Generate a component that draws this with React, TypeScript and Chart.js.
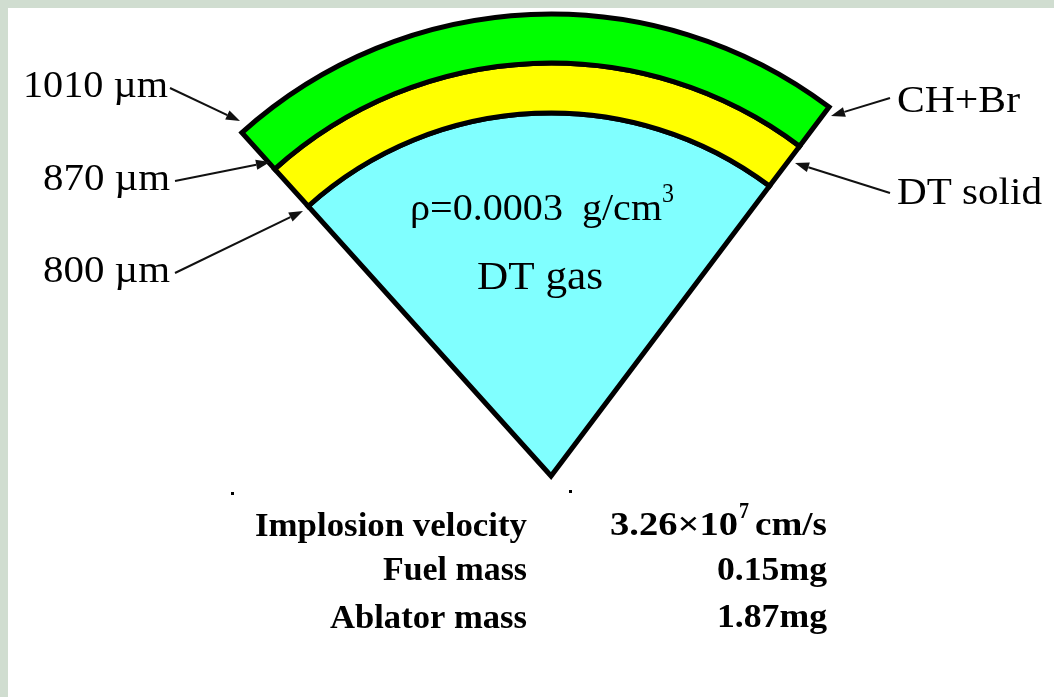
import React, { useEffect, useRef } from "react";
import { Chart, registerables } from "chart.js";

Chart.register(...registerables);

// ---- data ----
const layerNames = ["CH+Br", "DT solid", "DT gas"];
const layerThickness = [49, 50, 363]; // drawn ring thickness (outer -> inner)
const layerShare = [1, 1, 1];
const radiusLabels = ["1010 µm", "870 µm", "800 µm"];
const gasDensityText = "ρ=0.0003";
const gasDensityUnit = "g/cm";
const gasDensityExp = "3";
const paramNames = ["Implosion velocity", "Fuel mass", "Ablator mass"];
const paramValues = ["3.26×10", "0.15mg", "1.87mg"];
const velocityExp = "7";
const velocityUnit = "cm/s";

const layerColors = ["#00ff00", "#ffff00", "#80ffff"];

function fitText(
  ctx: CanvasRenderingContext2D,
  text: string,
  x: number,
  y: number,
  width: number,
  font: string,
  align: "left" | "right" = "left"
) {
  ctx.save();
  ctx.font = font;
  ctx.textAlign = "left";
  ctx.textBaseline = "alphabetic";
  const w = ctx.measureText(text).width || 1;
  const s = width / w;
  ctx.translate(align === "right" ? x - width : x, y);
  ctx.scale(s, 1);
  ctx.fillStyle = "#000";
  ctx.fillText(text, 0, 0);
  ctx.restore();
}

function arrow(ctx: CanvasRenderingContext2D, x1: number, y1: number, x2: number, y2: number) {
  const ang = Math.atan2(y2 - y1, x2 - x1);
  const len = 14;
  const hw = 5;
  const bx = x2 - len * Math.cos(ang);
  const by = y2 - len * Math.sin(ang);
  ctx.save();
  ctx.strokeStyle = "#111";
  ctx.fillStyle = "#111";
  ctx.lineWidth = 2;
  ctx.beginPath();
  ctx.moveTo(x1, y1);
  ctx.lineTo(bx, by);
  ctx.stroke();
  ctx.beginPath();
  ctx.moveTo(x2, y2);
  ctx.lineTo(bx + hw * Math.sin(ang), by - hw * Math.cos(ang));
  ctx.lineTo(bx - hw * Math.sin(ang), by + hw * Math.cos(ang));
  ctx.closePath();
  ctx.fill();
  ctx.restore();
}

const SERIF = '"Liberation Serif", "Times New Roman", serif';

const backgroundPlugin = {
  id: "bgFrame",
  beforeDraw(chart: any) {
    const ctx = chart.ctx as CanvasRenderingContext2D;
    ctx.save();
    ctx.fillStyle = "#d0ddd0";
    ctx.fillRect(0, 0, chart.width, chart.height);
    ctx.fillStyle = "#ffffff";
    ctx.fillRect(8, 8, chart.width - 8, chart.height - 8);
    ctx.restore();
  },
};

const annotationPlugin = {
  id: "annotations",
  afterDraw(chart: any) {
    const ctx = chart.ctx as CanvasRenderingContext2D;
    const reg = `38px ${SERIF}`;
    // radius labels (left)
    fitText(ctx, radiusLabels[0], 23, 97, 145, reg);
    fitText(ctx, radiusLabels[1], 43, 190, 127, reg);
    fitText(ctx, radiusLabels[2], 43, 282, 127, reg);
    arrow(ctx, 170, 88, 240, 121);
    arrow(ctx, 175, 181, 270, 162);
    arrow(ctx, 175, 273, 303, 211);
    // layer labels (right)
    fitText(ctx, layerNames[0], 897, 112, 123, reg);
    fitText(ctx, layerNames[1], 897, 204, 145, reg);
    arrow(ctx, 890, 98, 831, 116);
    arrow(ctx, 890, 193, 795, 163);
    // gas text
    fitText(ctx, gasDensityText, 410, 220, 153, reg);
    fitText(ctx, gasDensityUnit, 582, 220, 80, reg);
    fitText(ctx, gasDensityExp, 662, 202, 12, `28px ${SERIF}`);
    fitText(ctx, layerNames[2], 477, 289, 126, `41px ${SERIF}`);
    // table
    const bold = `bold 33px ${SERIF}`;
    fitText(ctx, paramNames[0], 527, 536, 272, bold, "right");
    fitText(ctx, paramNames[1], 527, 580, 144, bold, "right");
    fitText(ctx, paramNames[2], 527, 628, 197, bold, "right");
    fitText(ctx, paramValues[0], 610, 535, 128, bold);
    fitText(ctx, velocityExp, 739, 518, 10, `bold 23px ${SERIF}`);
    fitText(ctx, velocityUnit, 755, 535, 72, bold);
    fitText(ctx, paramValues[1], 717, 580, 110, bold);
    fitText(ctx, paramValues[2], 717, 627, 110, bold);
    // stray dots
    ctx.save();
    ctx.fillStyle = "#000";
    ctx.fillRect(231, 492, 3, 3);
    ctx.fillRect(569, 490, 3, 3);
    ctx.restore();
  },
};

export default function App() {
  const ref = useRef<HTMLCanvasElement | null>(null);
  useEffect(() => {
    if (!ref.current) return;
    const chart = new Chart(ref.current, {
      type: "doughnut",
      data: {
        labels: ["layer"],
        datasets: layerNames.map((name, i) => ({
          label: name,
          data: [layerShare[i]],
          weight: layerThickness[i],
          backgroundColor: layerColors[i],
          borderColor: "#000000",
          borderWidth: 5,
          borderJoinStyle: "miter",
          hoverOffset: 0,
        })),
      },
      options: {
        responsive: false,
        animation: false,
        devicePixelRatio: 1,
        rotation: -42,
        circumference: 79,
        radius: 462,
        cutout: 0,
        events: [],
        layout: { padding: { left: 242, right: 225, top: 14, bottom: 221 } },
        plugins: { legend: { display: false }, tooltip: { enabled: false } },
      } as any,
      plugins: [backgroundPlugin, annotationPlugin],
    });
    return () => chart.destroy();
  }, []);
  return (
    <canvas
      ref={ref}
      width={1054}
      height={697}
      style={{ position: "fixed", left: 0, top: 0, width: 1054, height: 697, display: "block" }}
    />
  );
}
